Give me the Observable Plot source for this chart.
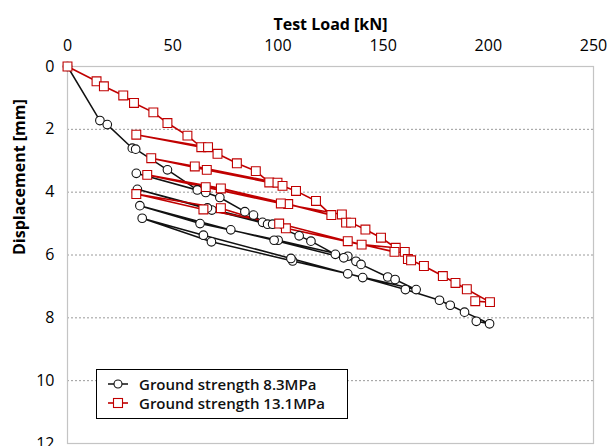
<!DOCTYPE html>
<html><head><meta charset="utf-8">
<script src="https://cdn.jsdelivr.net/npm/d3@7"></script>
<script src="https://cdn.jsdelivr.net/npm/@observablehq/plot@0.6"></script>
<style>
body{margin:0;background:#fff;font-family:"Open Sans",sans-serif}
#wrap{position:relative;width:609px;height:446px;overflow:hidden}
#legend{position:absolute;left:96px;top:369px;width:250px;height:48px;border:1.6px solid #000;background:#fff;font-family:"Open Sans",sans-serif;font-size:15px;font-weight:600;color:#111}
#legend .row{position:absolute;left:10px;height:20px;display:flex;align-items:center}
#legend svg{margin-right:10px}
</style>
</head><body><div id="wrap"></div>
<script>
// Test Load [kN] / Displacement [mm]
const seriesNames = ["Ground strength 8.3MPa", "Ground strength 13.1MPa"];
const xTicks = [0, 50, 100, 150, 200, 250];
const yTicks = [0, 2, 4, 6, 8, 10, 12];
const gridY = [2, 4, 6, 8, 10];

const loadBlack = [0, 15.4, 18.9, 30.8, 32.4, 47.5, 61.7,
  32.7,
  65.7, 72.4, 84.3, 88.4, 92.7, 95.1,
  68.6, 33.2,
  66.5, 97.5, 110.1, 115.7, 127.3, 133.2,
  100.1, 63.0, 34.4,
  77.6, 98.2, 131.3, 137.1, 139.5, 152.2, 155.7, 165.7,
  133.2, 107.0, 68.4, 35.5,
  64.6, 106.2, 140.3, 160.6, 176.8, 181.9, 188.7, 200.6, 194.3];
const dispBlack = [0, 1.72, 1.85, 2.60, 2.63, 3.29, 3.93,
  3.40,
  4.01, 4.17, 4.62, 4.73, 4.96, 5.02,
  4.57, 3.91,
  4.50, 5.02, 5.39, 5.56, 5.98, 6.04,
  5.53, 5.00, 4.43,
  5.20, 5.53, 6.09, 6.20, 6.30, 6.70, 6.78, 7.10,
  6.60, 6.19, 5.58, 4.83,
  5.37, 6.11, 6.72, 7.10, 7.44, 7.60, 7.82, 8.19, 8.11];

const loadRed = [0, 13.8, 17.3, 26.5, 31.6, 40.8, 47.5, 57.0, 63.6,
  32.7,
  66.8, 71.3, 80.5, 89.5, 95.9,
  66.2, 39.8,
  60.5, 99.8, 102.2, 108.6, 118.1, 125.4,
  104.9, 72.9, 37.9,
  65.7, 101.4, 130.4, 132.4, 134.8, 141.6, 149.0, 156.0,
  139.8, 103.8, 72.9, 32.7,
  64.6, 100.6, 133.2, 155.4, 160.3, 161.8, 163.3, 169.4, 178.4, 184.4, 189.8, 200.8, 193.8];
const dispRed = [0, 0.47, 0.63, 0.92, 1.16, 1.46, 1.80, 2.20, 2.57,
  2.17,
  2.57, 2.78, 3.08, 3.33, 3.69,
  3.29, 2.92,
  3.18, 3.70, 3.80, 3.96, 4.28, 4.73,
  4.38, 3.88, 3.45,
  3.84, 4.36, 4.71, 4.97, 4.97, 5.19, 5.45, 5.77,
  5.67, 5.15, 4.51, 4.06,
  4.55, 5.00, 5.56, 5.90, 5.90, 6.13, 6.17, 6.35, 6.67, 6.89, 7.09, 7.50, 7.47];

const black = loadBlack.map((x, i) => ({x, y: dispBlack[i]}));
const red = loadRed.map((x, i) => ({x, y: dispRed[i]}));
const RED = "#c00000";

const chart = Plot.plot({
  width: 609, height: 446,
  marginLeft: 67, marginRight: 16, marginTop: 66, marginBottom: 3,
  style: {fontFamily: "Open Sans, sans-serif", fontSize: "16px", color: "#000", background: "#fff", overflow: "visible"},
  x: {domain: [0, 250]},
  y: {domain: [0, 12], reverse: true},
  marks: [
    Plot.ruleY(gridY, {stroke: "#9a9a9a", strokeDasharray: "2,2", strokeWidth: 1}),
    Plot.frame({stroke: "#c4c4c4", strokeWidth: 1.2}),
    Plot.axisX({anchor: "top", ticks: xTicks, tickSize: 0, tickPadding: 16, label: null, fontSize: 16}),
    Plot.axisY({anchor: "left", ticks: yTicks, tickSize: 0, tickPadding: 13, label: null, fontSize: 16}),
    Plot.text([0], {text: ["Test Load [kN]"], frameAnchor: "top", dy: -48, fontWeight: "bold", fontSize: 16}),
    Plot.text([0], {text: ["Displacement [mm]"], frameAnchor: "left", dx: -48, rotate: -90, fontWeight: "bold", fontSize: 16}),
    Plot.line(black, {x: "x", y: "y", stroke: "#111", strokeWidth: 1.5}),
    Plot.line(red, {x: "x", y: "y", stroke: RED, strokeWidth: 1.6}),
    Plot.dot(black, {x: "x", y: "y", r: 4.3, stroke: "#111", fill: "#fff", strokeWidth: 1.1}),
    Plot.dot(red, {x: "x", y: "y", symbol: "square", r: 5, stroke: RED, fill: "#fff", strokeWidth: 1.1})
  ]
});

const wrap = document.getElementById("wrap");
wrap.appendChild(chart);

const legend = document.createElement("div");
legend.id = "legend";
legend.innerHTML = `
<div class="row" style="top:4px"><svg width="22" height="12"><line x1="1" y1="6" x2="21" y2="6" stroke="#111" stroke-width="1.5"/><circle cx="11" cy="6" r="4" fill="#fff" stroke="#111" stroke-width="1.1"/></svg><span>${seriesNames[0]}</span></div>
<div class="row" style="top:23px"><svg width="22" height="12"><line x1="1" y1="6" x2="21" y2="6" stroke="${RED}" stroke-width="1.6"/><rect x="6.5" y="1.5" width="9" height="9" fill="#fff" stroke="${RED}" stroke-width="1.1"/></svg><span>${seriesNames[1]}</span></div>`;
wrap.appendChild(legend);
</script>
</body></html>
